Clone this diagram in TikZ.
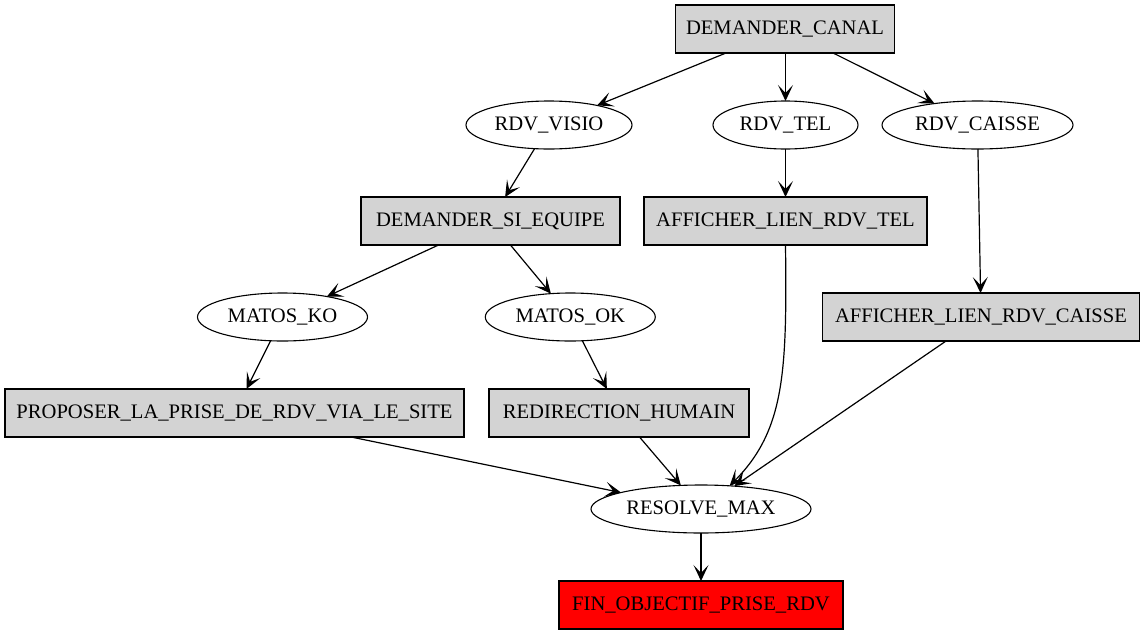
\documentclass[tikz,border=0pt]{standalone}
\usepackage{fontspec}
\setmainfont{Liberation Serif}
\usetikzlibrary{arrows.meta,shapes.geometric}
\definecolor{boxgray}{RGB}{211,211,211}
\tikzset{
  every node/.style={font=\fontsize{20.6}{24}\selectfont, text height=14.6pt, text depth=4pt, inner sep=0pt, outer sep=0pt, line width=1.1pt},
  gbox/.style={draw=black, fill=boxgray, rectangle, minimum height=48pt},
  rbox/.style={draw=black, fill=red, rectangle, minimum height=48pt},
  oval/.style={draw=black, ellipse, minimum height=48pt},
  edge/.style={draw=black, line width=1.2pt, -{Stealth[length=16pt,width=15pt,inset=8pt]}},
}
\begin{document}
\begin{tikzpicture}[x=1pt,y=-1pt]
\useasboundingbox (0,0) rectangle (1145,635);
\node[gbox, minimum width=219pt] (dc) at (785,29) {DEMANDER\_CANAL};
\node[oval, minimum width=166pt] (visio) at (549,125) {RDV\_VISIO};
\node[oval, minimum width=145pt] (tel) at (785.5,125) {RDV\_TEL};
\node[oval, minimum width=191pt] (caisse) at (977.5,125) {RDV\_CAISSE};
\node[gbox, minimum width=259pt] (dse) at (490.5,221) {DEMANDER\_SI\_EQUIPE};
\node[gbox, minimum width=283pt] (alrt) at (785.5,221) {AFFICHER\_LIEN\_RDV\_TEL};
\node[oval, minimum width=170pt] (ko) at (282.5,317) {MATOS\_KO};
\node[oval, minimum width=170pt] (ok) at (570.3,317) {MATOS\_OK};
\node[gbox, minimum width=317pt] (alrc) at (981,317) {AFFICHER\_LIEN\_RDV\_CAISSE};
\node[gbox, minimum width=459pt] (prop) at (234.5,413) {PROPOSER\_LA\_PRISE\_DE\_RDV\_VIA\_LE\_SITE};
\node[gbox, minimum width=260pt] (redir) at (619,413) {REDIRECTION\_HUMAIN};
\node[oval, minimum width=220pt] (resolve) at (701,509) {RESOLVE\_MAX};
\node[rbox, minimum width=284pt] (fin) at (701,605) {FIN\_OBJECTIF\_PRISE\_RDV};

\draw[edge] (dc) -- (visio);
\draw[edge] (dc.south -| tel) -- (tel);
\draw[edge] (dc) -- (caisse);
\draw[edge] (visio) -- (dse);
\draw[edge] (tel) -- (alrt);
\draw[edge] (caisse) -- (alrc);
\draw[edge] (dse) -- (ko);
\draw[edge] (dse) -- (ok);
\draw[edge] (ko) -- (prop);
\draw[edge] (ok) -- (redir);
\draw[edge] (alrt.south) .. controls +(1.5,126) and (785,430) .. (resolve.39);
\draw[edge] (alrc) -- (resolve);
\draw[edge] (prop) -- (resolve);
\draw[edge] (redir) -- (resolve);
\draw[edge] (resolve) -- (fin);
\end{tikzpicture}
\end{document}
